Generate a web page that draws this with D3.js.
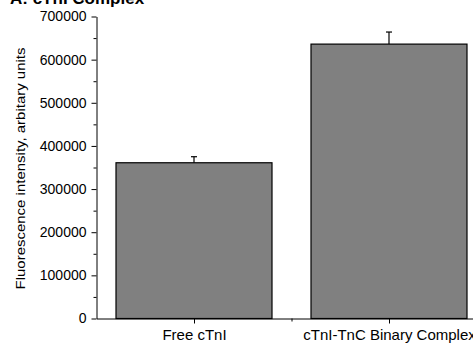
<!DOCTYPE html>
<html>
<head>
<meta charset="utf-8">
<script src="https://cdn.jsdelivr.net/npm/d3@7"></script>
<style>
  body { margin: 0; background: #fff; }
  svg { display: block; font-family: "Liberation Sans", Arial, sans-serif; }
</style>
</head>
<body>
<div id="chart"></div>
<script>
// data
const categories = ['Free cTnI', 'cTnI-TnC Binary Complex'];
const values = [361000, 636000];
const errors = [14000, 28000];
const yTicks = [0, 100000, 200000, 300000, 400000, 500000, 600000, 700000];

const svgWidth = 473, svgHeight = 345;

const svg = d3.select('#chart')
    .append('svg')
    .attr('width', svgWidth)
    .attr('height', svgHeight);

// x is a linear axis, categories sit at 1 and 2
const x = d3.scaleLinear()
    .domain([0.5, 2.5])
    .range([96.5, 486.5]);

const y = d3.scaleLinear()
    .domain([0, 700000])
    .range([318.5, 16.5]);

//bar width is 0.8 of the category spacing
const barW = x(1.8) - x(1);

// bars
svg.selectAll('.bar')
    .data(values).enter()
    .append('rect')
    .attr('class', 'bar')
    .attr('x', (d, i) => x(i + 1) - barW / 2)
    .attr('y', d => y(d))
    .attr('width', barW)
    .attr('height', d => y(0) - y(d))
    .style('fill', '#808080')
    .style('stroke', '#000')
    .style('stroke-width', 1.2);

// error bars, upper half only
const err = svg.selectAll('.err')
    .data(values).enter()
    .append('g')
    .attr('class', 'err');

err.append('line')
    .attr('x1', (d, i) => x(i + 1))
    .attr('x2', (d, i) => x(i + 1))
    .attr('y1', d => y(d))
    .attr('y2', (d, i) => y(d + errors[i]))
    .style('stroke', '#000')
    .style('stroke-width', 1.2);

err.append('line')
    .attr('x1', (d, i) => x(i + 1) - 3)
    .attr('x2', (d, i) => x(i + 1) + 3)
    .attr('y1', (d, i) => y(d + errors[i]))
    .attr('y2', (d, i) => y(d + errors[i]))
    .style('stroke', '#000')
    .style('stroke-width', 1.2);

// y axis with minor ticks
const yAxis = svg.append('g')
    .attr('transform', `translate(${x(0.5)}, 0)`);

yAxis.call(d3.axisLeft(y).tickValues(d3.range(50000, 700000, 100000)).tickSize(3).tickFormat(''))
    .call(g => g.select('.domain').remove());
yAxis.append('g').attr('class', 'ylab')
    .call(d3.axisLeft(y).tickValues(yTicks).tickSize(5).tickSizeOuter(0).tickPadding(5).tickFormat(d3.format('d')));

// x axis with minor ticks
const xAxis = svg.append('g')
    .attr('transform', `translate(0, ${y(0)})`);

xAxis.call(d3.axisBottom(x).tickValues([1.5]).tickSize(3).tickFormat(''))
    .call(g => g.select('.domain').remove());
xAxis.append('g').attr('class', 'xlab')
    .call(d3.axisBottom(x).tickValues([1, 2]).tickSize(5).tickSizeOuter(0).tickPadding(6)
        .tickFormat((d, i) => categories[i]));

svg.selectAll('.tick text')
    .style('font-family', '"Liberation Sans", Arial, sans-serif')
    .style('fill', '#000');
svg.selectAll('.ylab .tick text').style('font-size', '14px');
svg.selectAll('.xlab .tick text').style('font-size', '15px');
svg.selectAll('.domain, .tick line').style('stroke', '#000');

// y label
svg.append('text')
    .attr('transform', `translate(25, ${y(350000) + 1}) rotate(-90)`)
    .style('text-anchor', 'middle')
    .style('font-size', '13px')
    .attr('textLength', 242)
    .attr('lengthAdjust', 'spacingAndGlyphs')
    .text('Fluorescence intensity, arbitary units');

// title, cut at the top edge
svg.append('text')
    .attr('x', 10)
    .attr('y', 4)
    .style('font-size', '17px')
    .style('font-weight', 'bold')
    .text('A: cTnI Complex');
</script>
</body>
</html>
